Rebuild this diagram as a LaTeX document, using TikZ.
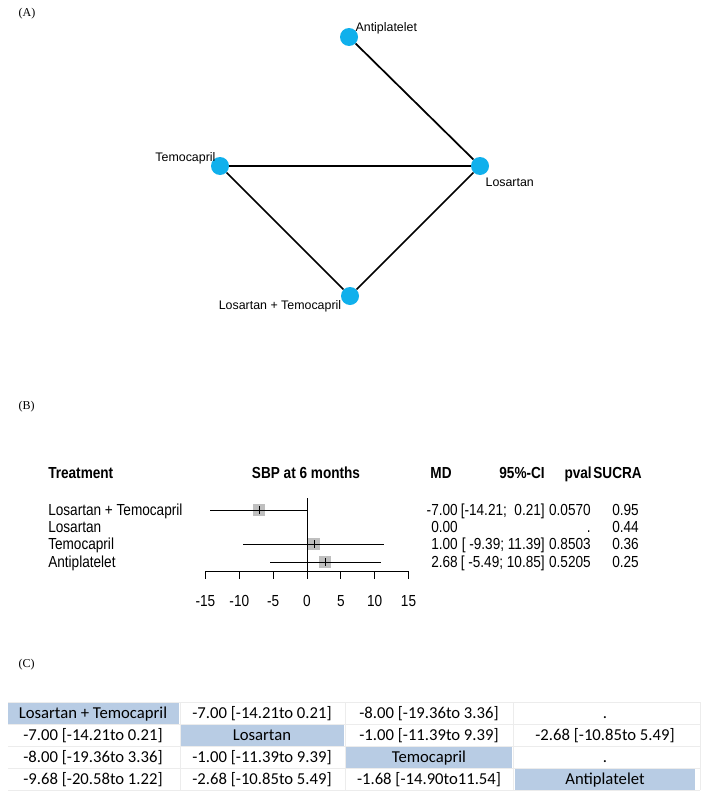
\documentclass[tikz,border=0pt]{standalone}
\usepackage{fontspec}
\setmainfont{Liberation Serif}
\newfontfamily\arial{Liberation Sans}
\newfontfamily\arialn[FakeStretch=0.85]{Liberation Sans}
\newfontfamily\calib{Carlito}
\definecolor{nodeblue}{HTML}{10B0EC}
\definecolor{shade}{HTML}{B8CCE4}
\begin{document}
\begin{tikzpicture}[x=0.75pt,y=-0.75pt,
  nd/.style={circle,fill=nodeblue,draw=none,minimum size=13.5pt,inner sep=0pt},
  lbl/.style={font=\arial\fontsize{9.3}{10}\selectfont,inner sep=1pt},
  edge/.style={line width=1.3pt},
  fp/.style={font=\arialn\fontsize{12}{13}\selectfont,inner sep=0pt},
  fh/.style={font=\arialn\bfseries\fontsize{12}{13}\selectfont,inner sep=0pt},
  sq/.style={fill=gray!50,draw=none,minimum size=9.5pt,inner sep=0pt},
  cell/.style={font=\calib\fontsize{12.5}{14}\selectfont,inner sep=0pt,anchor=base},
  sh/.style={fill=shade}]
\useasboundingbox (0,0) rectangle (715,810);
\fill[white] (0,0) rectangle (715,810);
\node[anchor=west,font=\fontsize{9}{10}\selectfont] (la) at (14,14) {(A)};
\node[anchor=west,font=\fontsize{9}{10}\selectfont] (lb) at (14,407) {(B)};
\node[anchor=west,font=\fontsize{9}{10}\selectfont] (lc) at (14,665) {(C)};
% network
\node[nd] (ap) at (349,37) {};
\node[nd] (te) at (220,166) {};
\node[nd] (lo) at (480,166) {};
\node[nd] (lt) at (350,296) {};
\draw[edge] (ap) -- (lo);
\draw[edge] (te) -- (lo);
\draw[edge] (te) -- (lt);
\draw[edge] (lt) -- (lo);
\node[lbl,anchor=west] (tap) at (354,28) {Antiplatelet};
\node[lbl,anchor=east] (tte) at (217,158) {Temocapril};
\node[lbl,anchor=west] (tlo) at (484,182) {Losartan};
\node[lbl,anchor=center] (tlt) at (280,306) {Losartan + Temocapril};
% forest plot
\node[fh,anchor=base west] (h1) at (48,478) {Treatment};
\node[fh,anchor=base] (h2) at (306,478) {SBP at 6 months};
\node[fh,anchor=base] (h3) at (441,478) {MD};
\node[fh,anchor=base east] (h4) at (545,478) {95\%-CI};
\node[fh,anchor=base east] (h5) at (592,478) {pval};
\node[fh,anchor=base east] (h6) at (642,478) {SUCRA};
\foreach \n/\y/\t/\md/\ci/\pv/\su in {r1/515/Losartan + Temocapril/-7.00/{[-14.21;\ \ 0.21]}/0.0570/0.95,
  r2/532/Losartan/0.00/{}/./0.44, r3/549/Temocapril/1.00/{[ -9.39; 11.39]}/0.8503/0.36,
  r4/567/Antiplatelet/2.68/{[ -5.49; 10.85]}/0.5205/0.25}{
  \node[fp,anchor=base west] (\n a) at (48,\y) {\t};
  \node[fp,anchor=base east] (\n b) at (458,\y) {\md};
  \node[fp,anchor=base east] (\n c) at (545,\y) {\ci};
  \node[fp,anchor=base east] (\n d) at (591,\y) {\pv};
  \node[fp,anchor=base east] (\n e) at (639,\y) {\su};
}
\coordinate (z0) at (307,498);
\coordinate (z1) at (307,571);
\draw[line width=0.6pt] (z0) -- (z1);
\node[sq] (s1) at (259,510) {};
\draw[line width=0.6pt] (210,510) -- (308,510);
\draw (259,506) -- (259,514);
\node[sq] (s3) at (314,544) {};
\draw[line width=0.6pt] (243,544) -- (384,544);
\draw (314,540) -- (314,548);
\node[sq] (s4) at (325,562) {};
\draw[line width=0.6pt] (270,562) -- (381,562);
\draw (325,558) -- (325,566);
\draw[line width=0.6pt] (206,571) -- (409,571);
\foreach \v in {-15,-10,-5,0,5,10,15}{
  \draw[line width=0.6pt] (307+6.77*\v,571) -- (307+6.77*\v,579);
  \node[fp] (t\v) at (307+6.77*\v,601) {\v};
}
% table
\fill[sh] (8,703) rectangle (179,724);
\fill[sh] (181,725) rectangle (344,746);
\fill[sh] (346,747) rectangle (512,768);
\fill[sh] (515,769) rectangle (695,790);
\foreach \yy in {702,724,746,768,790}{\draw[gray!15,line width=0.5pt] (8,\yy) -- (700,\yy);}
\foreach \xx in {180,345,513,700}{\draw[gray!15,line width=0.5pt] (\xx,702) -- (\xx,790);}
\foreach \r/\y/\a/\b/\c/\d in {
 1/718/Losartan + Temocapril/-7.00 [-14.21to 0.21]/-8.00 [-19.36to 3.36]/.,
 2/740/-7.00 [-14.21to 0.21]/Losartan/-1.00 [-11.39to 9.39]/-2.68 [-10.85to 5.49],
 3/762/-8.00 [-19.36to 3.36]/-1.00 [-11.39to 9.39]/Temocapril/.,
 4/784/-9.68 [-20.58to 1.22]/-2.68 [-10.85to 5.49]/-1.68 [-14.90to11.54]/Antiplatelet}{
 \node[cell] (c\r a) at (93,\y) {\a};
 \node[cell] (c\r b) at (262,\y) {\b};
 \node[cell] (c\r c) at (429,\y) {\c};
 \node[cell] (c\r d) at (605,\y) {\d};
}
\end{tikzpicture}
\end{document}
